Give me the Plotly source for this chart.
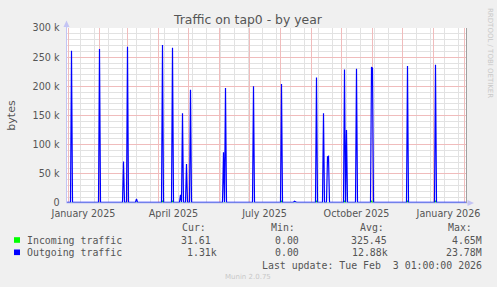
import plotly.graph_objects as go
import pandas as pd

W, H = 497, 287

# ---- data ----
range_start = "2024-12-30"
range_end = "2026-02-03"

out_spike_dates = ["2025-01-04", "2025-02-01", "2025-02-25", "2025-03-01", "2025-03-10",
                   "2025-04-05", "2025-04-15", "2025-04-23", "2025-04-25", "2025-04-29",
                   "2025-05-03", "2025-05-29", "2025-06-05", "2025-06-07", "2025-07-05",
                   "2025-08-02", "2025-08-15", "2025-09-06", "2025-09-13", "2025-09-17",
                   "2025-09-18", "2025-10-04", "2025-10-06", "2025-10-16", "2025-10-31",
                   "2025-11-01", "2025-12-06", "2025-12-15", "2026-01-03", "2026-01-18"]
out_spike_vals = [261000, 264000, 71000, 268000, 7000,
                  271000, 266000, 14000, 154000, 67000,
                  194000, 2500, 87000, 197000, 200000,
                  204000, 3000, 215000, 154000, 79000,
                  80000, 229000, 125000, 230000, 233000,
                  231000, 235000, 2000, 237000, 2000]
out_baseline = 1300

in_spike_dates = ["2025-04-05", "2025-04-15", "2025-08-02", "2025-09-06", "2025-10-04",
                  "2025-10-31", "2025-12-06", "2026-01-03"]
in_spike_vals = [4000, 4000, 4000, 4000, 4000, 4000, 4000, 4000]
in_baseline = 0

y_tick_vals = [0, 50000, 100000, 150000, 200000, 250000, 300000]
y_tick_text = ["0", "50 k", "100 k", "150 k", "200 k", "250 k", "300 k"]
x_label_dates = ["2025-01-16", "2025-04-16", "2025-07-16", "2025-10-16", "2026-01-16"]
x_label_text = ["January 2025", "April 2025", "July 2025", "October 2025", "January 2026"]

series_names = ["Incoming traffic", "Outgoing traffic"]
series_colors = ["#00ff00", "#0000ff"]
cur_vals = ["31.61", "1.31k"]
min_vals = ["0.00", "0.00"]
avg_vals = ["325.45", "12.88k"]
max_vals = ["4.65M", "23.78M"]

# ---- build daily series ----
days = pd.date_range(range_start, range_end, freq="D")
out_s = pd.Series(float(out_baseline), index=days)
out_s.loc[pd.to_datetime(out_spike_dates)] = out_spike_vals
in_s = pd.Series(float(in_baseline), index=days)
in_s.loc[pd.to_datetime(in_spike_dates)] = in_spike_vals

def px(x):
    return x / W

def py(y):
    return 1 - y / H

fig = go.Figure()
fig.add_trace(go.Scatter(x=days, y=in_s.values, mode="lines",
                         line=dict(color=series_colors[0], width=1.2),
                         showlegend=False, hoverinfo="skip"))
fig.add_trace(go.Scatter(x=days, y=out_s.values, mode="lines",
                         line=dict(color=series_colors[1], width=1.2),
                         showlegend=False, hoverinfo="skip"))
fig.add_trace(go.Scatter(x=pd.to_datetime(x_label_dates), y=[None] * len(x_label_dates),
                         xaxis="x2", mode="markers", showlegend=False, hoverinfo="skip"))

major_grid = "rgb(240,188,188)"
minor_grid = "rgb(226,226,226)"
tick_font = dict(family="DejaVu Sans", size=9.6, color="#555555")

month_starts = pd.date_range("2025-01-01", range_end, freq="MS")
biweekly = pd.date_range(range_start, range_end, freq="14D")

x_dom = [px(66.5), px(466.5)]
y_dom = [py(203), py(28)]
xr = [pd.Timestamp(range_start), pd.Timestamp(range_end)]

fig.update_layout(
    width=W, height=H,
    margin=dict(l=0, r=0, t=0, b=0),
    paper_bgcolor="#f0f0f0",
    plot_bgcolor="#ffffff",
    xaxis=dict(domain=x_dom, range=xr, type="date", automargin=False,
               tickmode="array", tickvals=month_starts, showticklabels=False,
               showgrid=True, gridcolor=major_grid, gridwidth=1,
               minor=dict(tickmode="array", tickvals=biweekly, showgrid=True,
                          gridcolor=minor_grid, gridwidth=1),
               showline=False, zeroline=False, ticks=""),
    xaxis2=dict(domain=x_dom, range=xr, type="date", overlaying="x", anchor="y",
                automargin=False,
                side="bottom", tickmode="array", tickvals=pd.to_datetime(x_label_dates),
                ticktext=x_label_text, showgrid=False, zeroline=False, showline=False,
                ticks="", tickfont=tick_font, ticklabelstandoff=3),
    yaxis=dict(domain=y_dom, range=[0, 300000], tickmode="array", automargin=False,
               tickvals=y_tick_vals, ticktext=y_tick_text,
               showgrid=True, gridcolor=major_grid, gridwidth=1,
               minor=dict(tickmode="linear", tick0=0, dtick=10000, showgrid=True,
                          gridcolor=minor_grid, gridwidth=1),
               zeroline=False, showline=False, ticks="", tickfont=tick_font,
               ticklabelstandoff=6,
               title=dict(text="bytes", font=dict(family="DejaVu Sans", size=11, color="#555555"),
                          standoff=14)),
    showlegend=False,
)

shapes = []
axis_col = "#c4c4f4"
# axis lines with arrows
shapes.append(dict(type="line", xref="paper", yref="paper", x0=px(66.5), x1=px(66.5),
                   y0=py(203), y1=py(24), line=dict(color=axis_col, width=1)))
shapes.append(dict(type="line", xref="paper", yref="paper", x0=px(66.5), x1=px(470),
                   y0=py(203), y1=py(203), line=dict(color=axis_col, width=1)))
shapes.append(dict(type="path", xref="paper", yref="paper",
                   path=f"M {px(63.5)} {py(27)} L {px(69.5)} {py(27)} L {px(66.5)} {py(20.5)} Z",
                   fillcolor=axis_col, line=dict(width=0)))
shapes.append(dict(type="path", xref="paper", yref="paper",
                   path=f"M {px(467.5)} {py(200)} L {px(467.5)} {py(206)} L {px(474)} {py(203)} Z",
                   fillcolor=axis_col, line=dict(width=0)))
# right frame line
shapes.append(dict(type="line", xref="paper", yref="paper", x0=px(466.5), x1=px(466.5),
                   y0=py(203), y1=py(28), line=dict(color="#a0a0a0", width=1)))
# legend swatches
for i, c in enumerate(series_colors):
    yc = 240 + i * 12.3
    shapes.append(dict(type="rect", xref="paper", yref="paper",
                       x0=px(14), x1=px(20), y0=py(yc - 2.8), y1=py(yc + 2.8),
                       fillcolor=c, line=dict(width=0)))
fig.update_layout(shapes=shapes)

mono = "DejaVu Sans Mono"
anns = []

def ann(text, x, y, size=9.9, color="#555555", xanchor="left", family=mono, angle=0):
    anns.append(dict(text=text, x=px(x), y=py(y), xref="paper", yref="paper",
                     showarrow=False, xanchor=xanchor, yanchor="middle", textangle=angle,
                     font=dict(family=family, size=size, color=color), borderpad=0))

ann("Traffic on tap0 - by year", 248, 19, size=12.4, color="#555555", xanchor="center",
    family="DejaVu Sans")
ann("RRDTOOL / TOBI OETIKER", 490, 53, size=7, color="#c8c8c8", xanchor="center",
    family="DejaVu Sans", angle=90)

ann("Cur:", 180.5, 227.5)
ann("Min:", 269.5, 227.5)
ann("Avg:", 358.5, 227.5)
ann("Max:", 446.5, 227.5)
cur_right = [211.5, 217.5]
avg_right = [388, 389]
for i in range(2):
    yy = 240 + i * 12.3
    ann(series_names[i], 25.5, yy)
    ann(cur_vals[i], cur_right[i], yy, xanchor="right")
    ann(min_vals[i], 299.5, yy, xanchor="right")
    ann(avg_vals[i], avg_right[i], yy, xanchor="right")
    ann(max_vals[i], 483, yy, xanchor="right")
ann("Last update: Tue Feb\u00a0\u00a03 01:00:00 2026", 261, 265)
ann("Munin 2.0.75", 248, 276.5, size=7, color="#c8c8c8", xanchor="center", family="DejaVu Sans")

fig.update_layout(annotations=anns)
fig.write_html("out.html")
